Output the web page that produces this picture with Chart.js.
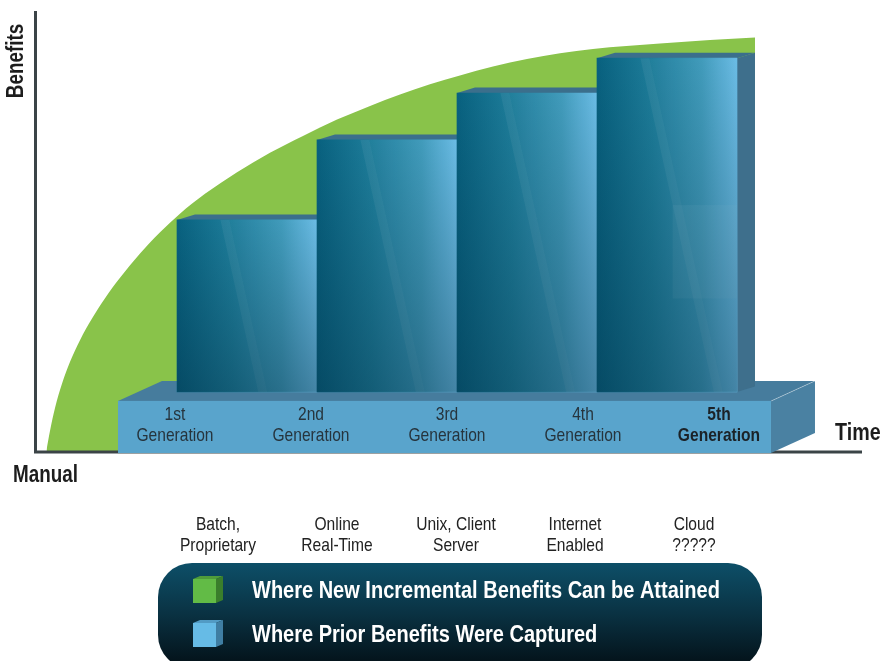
<!DOCTYPE html>
<html><head><meta charset="utf-8">
<script src="https://cdn.jsdelivr.net/npm/chart.js@4/dist/chart.umd.min.js"></script>
<style>html,body{margin:0;padding:0;background:#fff}#wrap{width:882px;height:661px;position:relative}canvas{display:block}</style>
</head><body><div id="wrap"><canvas id="c" width="882" height="661"></canvas></div>
<script>
// ---------------- DATA ----------------
const generations = ['1st', '2nd', '3rd', '4th', '5th'];
const generationWord = 'Generation';
const eraLine1 = ['Batch,', 'Online', 'Unix, Client', 'Internet', 'Cloud'];
const eraLine2 = ['Proprietary', 'Real-Time', 'Server', 'Enabled', '?????'];
const genPositions = [1, 2, 3, 4, 5];              // time, in generations
const capturedBenefits = [52.5, 70.6, 81.2, 89.1, null]; // benefit level reached (0-100)
const platformLevel = 13.6;                        // benefit level of the platform top
const curveTime = [-0.432, -0.407, -0.371, -0.321, -0.264, -0.193, -0.107, -0.014, 0.093, 0.236,
  0.379, 0.521, 0.700, 0.929, 1.164, 1.400, 1.643, 1.879, 2.093, 2.307, 2.521, 2.757, 3.000,
  3.236, 3.471, 3.950, 4.307, 4.629];
const curveBenefit = [0.45, 4.8, 10.0, 15.5, 20.4, 25.3, 30.2, 34.8, 39.4, 44.9,
  49.7, 53.9, 58.4, 63.3, 67.7, 71.5, 75.2, 78.3, 80.9, 83.2, 85.2, 87.2, 88.9,
  90.2, 91.2, 92.4, 93.2, 93.8];
const legendLabels = ['Where New Incremental Benefits Can be Attained', 'Where Prior Benefits Were Captured'];
const legendColors = [['#62bb46', '#3a7e2b', '#4f9c3a'], ['#66bbe6', '#3f7ea3', '#529bc4']];
const yTitle = 'Benefits';
const xTitle = 'Time';
const originLabel = 'Manual';

// ---------------- STYLE ----------------
const FONT = '"Liberation Sans", Arial, sans-serif';
const CONDENSE = 0.82;
const GREEN = '#89c34a';
const DEPTH = {dx: 18, dy: -5.5};

// condensed text (Arial Narrow proportions)
function ntext(ctx, text, x, y, size, bold, align) {
  ctx.save();
  ctx.font = (bold ? 'bold ' : '') + size + 'px ' + FONT;
  ctx.textAlign = align || 'left';
  ctx.textBaseline = 'middle';
  ctx.translate(x, y);
  ctx.scale(CONDENSE, 1);
  ctx.fillText(text, 0, 0);
  ctx.restore();
}

function barFill(c) {
  const chart = c.chart;
  const xs = chart.scales && chart.scales.x;
  if (!chart.chartArea || !xs || c.type !== 'data') return '#1f7f9b';
  const g = genPositions[c.dataIndex];
  const x0 = xs.getPixelForValue(g - 0.5), x1 = xs.getPixelForValue(g + 0.5);
  const gr = chart.ctx.createLinearGradient(x0, 0, x1, 0);
  gr.addColorStop(0, '#08617f');
  gr.addColorStop(0.4, '#1e7e9b');
  gr.addColorStop(0.75, '#3d99ba');
  gr.addColorStop(1, '#68bbe5');
  return gr;
}

function poly(ctx, pts, fill) {
  ctx.beginPath();
  ctx.moveTo(pts[0][0], pts[0][1]);
  for (let i = 1; i < pts.length; i++) ctx.lineTo(pts[i][0], pts[i][1]);
  ctx.closePath();
  ctx.fillStyle = fill;
  ctx.fill();
}

function roundRect(ctx, x, y, w, h, r) {
  ctx.beginPath();
  ctx.moveTo(x + r, y);
  ctx.arcTo(x + w, y, x + w, y + h, r);
  ctx.arcTo(x + w, y + h, x, y + h, r);
  ctx.arcTo(x, y + h, x, y, r);
  ctx.arcTo(x, y, x + w, y, r);
  ctx.closePath();
}

function barRects(chart) {
  const meta = chart.getDatasetMeta(0);
  const out = [];
  meta.data.forEach((el, i) => {
    if (capturedBenefits[i] == null) return;
    const p = el.getProps(['x', 'y', 'base', 'width'], true);
    out.push({i, x0: p.x - p.width / 2, x1: p.x + p.width / 2, top: p.y, base: p.base});
  });
  return out;
}

function platformGeom(chart) {
  const xs = chart.scales.x, ys = chart.scales.y, a = chart.chartArea;
  const yb = ys.getPixelForValue(platformLevel);
  return {
    left: xs.getPixelForValue(0.5) - 59,
    right: xs.getPixelForValue(4.5) + 34,
    frontTop: yb + 9,
    backTop: yb - 11,
    bottom: a.bottom + 1,
    dx: 44
  };
}

const scene = {
  id: 'scene',
  afterDatasetDraw(chart, args) {
    const ctx = chart.ctx, a = chart.chartArea;
    if (args.index === 1) {
      ctx.save();
      ctx.strokeStyle = '#3b4447';
      ctx.lineWidth = 3;
      ctx.beginPath();
      ctx.moveTo(a.left - 1.5, a.top + 1);
      ctx.lineTo(a.left - 1.5, a.bottom);
      ctx.lineTo(a.right, a.bottom);
      ctx.stroke();
      const P = platformGeom(chart);
      const dy = P.frontTop - P.backTop;
      poly(ctx, [[P.left, P.frontTop], [P.right, P.frontTop], [P.right + P.dx, P.backTop], [P.left + P.dx, P.backTop]], '#467c9d');
      poly(ctx, [[P.right, P.frontTop], [P.right + P.dx, P.backTop], [P.right + P.dx, P.bottom - dy], [P.right, P.bottom]], '#4a81a2');
      ctx.fillStyle = '#59a4cc';
      ctx.fillRect(P.left, P.frontTop, P.right - P.left, P.bottom - P.frontTop);
      ctx.strokeStyle = 'rgba(255,255,255,0.35)';
      ctx.lineWidth = 1;
      ctx.beginPath();
      ctx.moveTo(P.right + 0.5, P.frontTop);
      ctx.lineTo(P.right + P.dx, P.backTop);
      ctx.stroke();
      barRects(chart).forEach(r => {
        poly(ctx, [[r.x0, r.top], [r.x1, r.top], [r.x1 + DEPTH.dx, r.top + DEPTH.dy], [r.x0 + DEPTH.dx, r.top + DEPTH.dy]], '#3b6f8c');
        poly(ctx, [[r.x1, r.top], [r.x1 + DEPTH.dx, r.top + DEPTH.dy], [r.x1 + DEPTH.dx, r.base + DEPTH.dy], [r.x1, r.base]], '#3e6f8c');
      });
      ctx.restore();
    }
    if (args.index === 0) {
      ctx.save();
      const rects = barRects(chart);
      rects.forEach((r, k) => {
        const w = r.x1 - r.x0, h = r.base - r.top;
        ctx.save();
        ctx.beginPath();
        ctx.rect(r.x0, r.top, w, h);
        ctx.clip();
        const s0 = r.x0 + 0.31 * w;
        poly(ctx, [[s0, r.top], [s0 + 9, r.top], [s0 + 9 + 0.22 * h, r.base], [s0 + 0.22 * h, r.base]], 'rgba(255,255,255,0.06)');
        poly(ctx, [[s0 + 9, r.top], [r.x1, r.top], [r.x1, r.base], [s0 + 9 + 0.22 * h, r.base]], 'rgba(255,255,255,0.025)');
        if (k === rects.length - 1) {
          ctx.fillStyle = 'rgba(160,210,230,0.10)';
          ctx.fillRect(r.x0 + 0.54 * w, r.top + 0.44 * h, 0.46 * w, 0.28 * h);
        }
        const vg = ctx.createLinearGradient(0, r.top, 0, r.base);
        vg.addColorStop(0, 'rgba(0,35,55,0)');
        vg.addColorStop(1, 'rgba(0,35,55,0.36)');
        ctx.fillStyle = vg;
        ctx.fillRect(r.x0, r.top, w, h);
        ctx.restore();
      });
      ctx.restore();
    }
  },
  afterDraw(chart) {
    const ctx = chart.ctx, a = chart.chartArea;
    const P = platformGeom(chart);
    ctx.save();
    ctx.fillStyle = '#1d1d1d';
    ctx.save();
    ctx.translate(17, a.top + 51);
    ctx.rotate(-Math.PI / 2);
    ntext(ctx, yTitle, 0, 0, 23, true, 'center');
    ctx.restore();
    ntext(ctx, xTitle, a.right - 27, a.bottom - 19, 24, true, 'left');
    ntext(ctx, originLabel, 13, a.bottom + 24, 23, true, 'left');
    generations.forEach((g, i) => {
      const cx = P.left + 57 + i * 136;
      const last = i === generations.length - 1;
      ctx.fillStyle = last ? '#1b2227' : '#26343d';
      ntext(ctx, g, cx, P.frontTop + 14, 19, last, 'center');
      ntext(ctx, generationWord, cx, P.frontTop + 35, 19, last, 'center');
    });
    ctx.fillStyle = '#222';
    eraLine1.forEach((t, i) => {
      const cx = 218 + i * 119;
      ntext(ctx, t, cx, a.bottom + 73, 19, false, 'center');
      ntext(ctx, eraLine2[i], cx, a.bottom + 94, 19, false, 'center');
    });
    const bx = 158, by = 563, bw = 604, bh = 106;
    const lg = ctx.createLinearGradient(0, by, 0, by + 98);
    lg.addColorStop(0, '#0d4f68');
    lg.addColorStop(0.5, '#0a3344');
    lg.addColorStop(1, '#04141c');
    roundRect(ctx, bx, by, bw, bh, 34);
    ctx.fillStyle = lg;
    ctx.fill();
    legendLabels.forEach((t, i) => {
      const cy = 591 + i * 44;
      const [front, side, top] = legendColors[i];
      const fx = 193, fy = cy - 12, fs = 23;
      poly(ctx, [[fx, fy], [fx + 7, fy - 3], [fx + fs + 7, fy - 3], [fx + fs, fy]], top);
      poly(ctx, [[fx + fs, fy], [fx + fs + 7, fy - 3], [fx + fs + 7, fy + fs - 2], [fx + fs, fy + fs + 1]], side);
      ctx.fillStyle = front;
      ctx.fillRect(fx, fy, fs, fs + 1);
      ctx.fillStyle = '#ffffff';
      ntext(ctx, t, 252, cy, 24.4, true, 'left');
    });
    ctx.restore();
  }
};

new Chart(document.getElementById('c'), {
  type: 'bar',
  data: {
    datasets: [
      {
        type: 'bar',
        label: legendLabels[1],
        data: genPositions.map((g, i) => ({x: g, y: capturedBenefits[i] == null ? null : [platformLevel, capturedBenefits[i]]})),
        barThickness: 'flex',
        categoryPercentage: 1,
        barPercentage: 1,
        backgroundColor: barFill,
        borderWidth: 0,
        order: 1
      },
      {
        type: 'line',
        label: legendLabels[0],
        data: curveTime.map((t, i) => ({x: t, y: curveBenefit[i]})),
        fill: 'origin',
        backgroundColor: GREEN,
        borderColor: 'rgba(0,0,0,0)',
        borderWidth: 0,
        pointRadius: 0,
        cubicInterpolationMode: 'monotone',
        order: 2
      }
    ]
  },
  options: {
    responsive: false,
    animation: false,
    devicePixelRatio: 1,
    layout: {padding: {left: 37, right: 20, top: 10, bottom: 209}},
    plugins: {legend: {display: false}, tooltip: {enabled: false}},
    scales: {
      x: {type: 'linear', min: -0.5, max: 5.393, offset: false, display: false},
      y: {type: 'linear', min: 0, max: 100, display: false}
    }
  },
  plugins: [scene]
});
</script>
</body></html>
